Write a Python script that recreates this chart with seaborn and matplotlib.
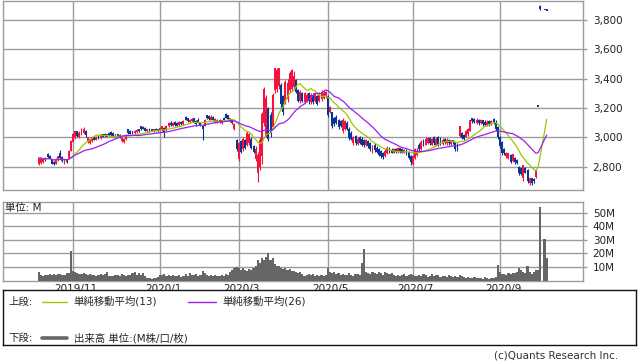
import numpy as np
import pandas as pd
import matplotlib
matplotlib.use("Agg")
import matplotlib.pyplot as plt
import seaborn as sns
from matplotlib.transforms import ScaledTranslation

# trading calendar (Tokyo), 2019/10/8 - 2020/10/5
holidays = ["2019-10-14", "2019-10-22", "2019-11-04", "2019-12-31",
            "2020-01-01", "2020-01-02", "2020-01-03", "2020-01-13",
            "2020-02-11", "2020-02-24", "2020-03-20", "2020-04-29",
            "2020-05-04", "2020-05-05", "2020-05-06", "2020-07-23",
            "2020-07-24", "2020-08-10", "2020-09-21", "2020-09-22"]

nan = np.nan
opens = [
    2815, 2825, 2830, 2860, 2885, 2875, 2850, 2835, 2820, 2845, 2890, 2865, 2830, 2850, 2860, 2910,
    2970, 3000, 3040, 3005, 3020, 3030, 3045, 2970, 2960, 2975, 3000, 2985, 3010, 2995, 3020, 3025,
    3005, 3030, 3035, 3030, 3005, 3020, 3015, 2975, 2965, 2990, 3055, 3045, 3040, 3030, 3035, 3055,
    3075, 3070, 3065, 3040, 3060, 3055, 3040, 3060, 3055, 3045, 3050, 3065, 3050, 3075, 3100, 3080,
    3105, 3100, 3085, 3105, 3090, 3140, 3130, 3105, 3110, 3130, 3110, 3120, 3100, 3080, 3080, 3150,
    3145, 3120, 3140, 3105, 3100, 3120, 3095, 3130, 3160, 3150, 3110, 3120, 3060, 2985, 2850, 2975,
    2920, 2980, 2950, 2960, 2990, 2940, 2850, 2760, 2800, 2870, 3100, 3010, 3200, 3150, 3070, 3320,
    3330, 3350, 3360, 3280, 3240, 3260, 3320, 3330, 3340, 3390, 3320, 3250, 3300, 3240, 3250, 3300,
    3240, 3290, 3250, 3280, 3250, 3260, 3270, 3280, 3280, 3175, 3170, 3130, 3140, 3120, 3110, 3040,
    3060, 3100, 3060, 3030, 2960, 3010, 2955, 3000, 2990, 2980, 2945, 2975, 2960, 2905, 2950, 2930,
    2920, 2910, 2895, 2870, 2890, 2925, 2915, 2895, 2920, 2900, 2925, 2920, 2895, 2910, 2900, 2870,
    2820, 2860, 2880, 2950, 2920, 2980, 2950, 2960, 2995, 2950, 3000, 2945, 3000, 2990, 2955, 2990,
    2960, 2985, 2955, 2980, 2965, 2950, 3010, 3030, 3015, 3005, 3020, 3045, 3130, 3125, 3100, 3120,
    3095, 3115, 3105, 3085, 3110, 3090, 3125, 3100, 3070, 3000, 2970, 2920, 2870, 2860, 2880, 2840,
    2860, 2845, 2800, 2790, 2720, 2790, 2780, 2690, 2720, 2715, 2730, 3214, 3895, nan, 3870, 3868]
highs = [
    2865, 2860, 2860, 2868, 2890, 2880, 2855, 2840, 2860, 2875, 2916, 2870, 2855, 2855, 2915, 2980,
    3030, 3045, 3045, 3040, 3065, 3070, 3050, 3005, 2995, 3005, 3010, 3010, 3015, 3020, 3025, 3030,
    3025, 3035, 3040, 3035, 3025, 3025, 3020, 3000, 2995, 3020, 3060, 3050, 3045, 3050, 3055, 3060,
    3080, 3075, 3070, 3060, 3065, 3060, 3060, 3065, 3060, 3070, 3080, 3070, 3085, 3105, 3110, 3105,
    3110, 3105, 3110, 3110, 3115, 3145, 3135, 3125, 3130, 3135, 3115, 3130, 3105, 3085, 3125, 3155,
    3150, 3150, 3145, 3130, 3125, 3125, 3120, 3140, 3168, 3155, 3135, 3125, 3100, 2990, 2970, 2985,
    3000, 2990, 3040, 3030, 3000, 2950, 2940, 2900, 3000, 3170, 3345, 3290, 3210, 3170, 3300, 3475,
    3475, 3475, 3370, 3290, 3390, 3395, 3450, 3468, 3450, 3395, 3330, 3320, 3310, 3310, 3300, 3310,
    3300, 3300, 3310, 3290, 3310, 3325, 3325, 3315, 3290, 3215, 3175, 3140, 3150, 3125, 3120, 3134,
    3120, 3110, 3070, 3040, 3010, 3018, 3000, 3010, 3005, 2990, 2990, 2985, 2970, 2950, 2960, 2940,
    2930, 2915, 2900, 2920, 2940, 2935, 2925, 2930, 2930, 2935, 2930, 2925, 2920, 2920, 2905, 2880,
    2880, 2930, 2925, 2960, 2980, 2990, 3000, 3005, 3000, 2998, 3007, 3000, 3007, 3000, 2995, 2996,
    2996, 2990, 2984, 2984, 2970, 2960, 3080, 3035, 3020, 3050, 3064, 3121, 3135, 3132, 3132, 3125,
    3125, 3120, 3115, 3115, 3120, 3120, 3132, 3121, 3075, 3007, 2973, 2930, 2900, 2895, 2889, 2889,
    2865, 2850, 2805, 2800, 2814, 2800, 2785, 2725, 2725, 2725, 2780, 3214, 3900, nan, 3870, 3868]
lows = [
    2810, 2815, 2825, 2840, 2860, 2850, 2815, 2810, 2815, 2840, 2855, 2830, 2820, 2825, 2855, 2905,
    2965, 2990, 3000, 2995, 3015, 3025, 3005, 2960, 2955, 2970, 2980, 2980, 2990, 2990, 3000, 3005,
    3000, 3010, 3010, 3005, 3000, 3000, 2995, 2970, 2960, 2985, 3025, 3020, 3025, 3025, 3030, 3035,
    3050, 3055, 3040, 3035, 3035, 3040, 3035, 3040, 3035, 3040, 3045, 3005, 3045, 3070, 3080, 3075,
    3080, 3075, 3080, 3085, 3085, 3115, 3105, 3100, 3105, 3095, 3080, 3095, 3075, 2985, 3075, 3125,
    3120, 3115, 3115, 3100, 3095, 3100, 3090, 3110, 3130, 3120, 3105, 3090, 3050, 2905, 2840, 2890,
    2910, 2920, 2940, 2950, 2920, 2890, 2840, 2695, 2780, 2820, 3080, 3000, 2975, 3000, 3060, 3300,
    3310, 3330, 3200, 3155, 3230, 3240, 3310, 3320, 3330, 3300, 3240, 3236, 3240, 3230, 3240, 3230,
    3225, 3230, 3240, 3220, 3240, 3250, 3260, 3270, 3141, 3165, 3066, 3080, 3090, 3060, 3070, 3032,
    3050, 3050, 2984, 2980, 2950, 2950, 2950, 2955, 2940, 2937, 2940, 2930, 2910, 2895, 2900, 2895,
    2870, 2862, 2855, 2865, 2885, 2895, 2890, 2890, 2895, 2895, 2895, 2890, 2890, 2880, 2850, 2814,
    2814, 2850, 2870, 2910, 2915, 2940, 2945, 2955, 2950, 2945, 2950, 2939, 2939, 2945, 2950, 2955,
    2950, 2950, 2950, 2955, 2905, 2905, 3005, 2989, 2985, 3000, 3010, 3040, 3100, 3098, 3090, 3085,
    3090, 3075, 3075, 3080, 3080, 3085, 3090, 3041, 2990, 2928, 2882, 2882, 2860, 2855, 2825, 2830,
    2821, 2820, 2746, 2745, 2700, 2755, 2689, 2678, 2678, 2690, 2723, 3214, 3870, nan, 3870, 3868]
closes = [
    2860, 2855, 2850, 2845, 2865, 2855, 2820, 2815, 2855, 2870, 2860, 2840, 2850, 2830, 2910, 2975,
    3020, 3040, 3010, 3030, 3055, 3060, 3015, 3000, 2990, 3000, 2985, 3005, 2995, 3015, 3005, 3010,
    3020, 3015, 3015, 3010, 3020, 3005, 3000, 2995, 2990, 3015, 3030, 3025, 3030, 3045, 3050, 3040,
    3055, 3060, 3045, 3055, 3040, 3045, 3055, 3045, 3040, 3065, 3075, 3035, 3080, 3100, 3085, 3100,
    3085, 3080, 3105, 3090, 3110, 3120, 3110, 3120, 3125, 3100, 3090, 3100, 3085, 3060, 3120, 3130,
    3125, 3140, 3120, 3125, 3120, 3105, 3115, 3115, 3135, 3125, 3130, 3095, 3090, 2920, 2960, 2900,
    2990, 2930, 3030, 3020, 2930, 2900, 2920, 2880, 2980, 3160, 3330, 3270, 2990, 3030, 3290, 3470,
    3460, 3470, 3230, 3170, 3380, 3370, 3440, 3460, 3420, 3310, 3250, 3310, 3250, 3300, 3290, 3250,
    3290, 3240, 3300, 3230, 3300, 3310, 3300, 3310, 3150, 3205, 3080, 3090, 3100, 3070, 3080, 3120,
    3110, 3060, 2995, 2990, 3000, 2960, 2990, 2960, 2950, 2945, 2980, 2940, 2920, 2940, 2915, 2900,
    2880, 2870, 2865, 2910, 2930, 2900, 2895, 2920, 2900, 2925, 2905, 2895, 2915, 2885, 2860, 2830,
    2870, 2920, 2910, 2920, 2970, 2950, 2990, 2995, 2960, 2990, 2960, 2990, 2950, 2960, 2985, 2965,
    2985, 2960, 2980, 2965, 2920, 2910, 3075, 2995, 2990, 3040, 3060, 3115, 3110, 3105, 3120, 3095,
    3115, 3090, 3085, 3105, 3090, 3110, 3095, 3060, 3000, 2940, 2890, 2890, 2895, 2890, 2830, 2885,
    2830, 2825, 2760, 2750, 2810, 2760, 2700, 2720, 2690, 2700, 2775, 3214, 3875, nan, 3870, 3868]
# volume, million shares
volumes = [
    6.5, 4.2, 3.6, 4.0, 4.4, 4.8, 3.9, 4.5, 4.1, 4.6, 5.0, 4.3, 3.8, 5.2, 5.5, 21.5,
    7.0, 6.5, 5.8, 5.0, 4.5, 5.3, 4.8, 4.2, 4.6, 3.9, 4.4, 3.6, 4.0, 4.7, 3.8, 4.5,
    6.5, 3.4, 3.0, 3.3, 3.8, 4.2, 3.6, 4.9, 4.1, 3.5, 4.4, 3.9, 5.2, 6.2, 4.3, 5.8,
    4.0, 5.5, 3.6, 1.8, 1.5, 1.2, 2.0, 1.6, 2.5, 4.2, 3.8, 4.6, 3.5, 4.0, 3.2, 4.3,
    3.7, 3.1, 3.9, 2.8, 3.5, 4.8, 3.6, 5.9, 4.4, 3.8, 4.9, 3.3, 4.1, 7.0, 5.5, 4.2,
    3.6, 4.0, 3.4, 3.9, 3.1, 3.7, 4.3, 3.5, 4.6, 4.0, 6.5, 8.0, 9.5, 10.0, 9.0, 8.0,
    9.5, 7.6, 6.9, 8.2, 7.5, 9.0, 10.5, 15.0, 13.0, 16.5, 15.5, 17.5, 20.5, 15.0, 16.5, 12.0,
    10.5, 11.0, 9.5, 8.5, 9.0, 7.8, 8.2, 6.8, 7.2, 6.5, 5.5, 6.0, 4.5, 3.2, 4.4, 5.1,
    3.8, 4.6, 3.5, 4.2, 3.0, 4.0, 3.6, 4.4, 9.0, 6.0, 5.2, 6.5, 4.8, 5.5, 4.2, 4.6,
    3.9, 4.3, 5.6, 4.1, 3.7, 4.5, 5.0, 4.0, 13.0, 23.5, 6.0, 5.4, 5.0, 6.2, 5.5, 4.8,
    6.3, 5.2, 4.4, 6.0, 5.3, 4.6, 5.7, 4.2, 3.5, 4.0, 3.2, 3.8, 4.5, 3.6, 4.2, 5.0,
    4.4, 3.0, 3.7, 4.1, 3.3, 4.6, 3.9, 2.8, 3.4, 4.8, 3.1, 3.8, 4.3, 2.9, 3.6, 3.2,
    2.6, 3.9, 3.0, 2.4, 3.5, 2.7, 4.2, 3.1, 2.5, 2.0, 2.8, 2.2, 1.8, 2.4, 1.5, 2.1,
    1.9, 1.4, 2.3, 1.7, 1.2, 2.0, 1.6, 2.5, 11.5, 6.2, 5.0, 4.6, 4.2, 5.5, 4.8, 5.8,
    5.2, 6.0, 9.5, 8.0, 6.5, 5.5, 10.8, 6.0, 5.0, 6.5, 7.8, 7.5, 54.7, 0.0, 30.7, 16.9]

month_labels = ["2019/11", "2020/1", "2020/3", "2020/5", "2020/7", "2020/9"]
price_ticks = [2800, 3000, 3200, 3400, 3600, 3800]
volume_ticks = [10, 20, 30, 40, 50]

RED = "#f2133f"
BLUE = "#0b3592"
GREEN = "#9ac800"
PURPLE = "#9d1ff0"
GRID = "#9c9c9c"
VOLC = "#666666"

sns.set_theme(style="white")
plt.rcParams["font.family"] = ["DejaVu Sans", "Noto Sans CJK JP"]

dates = pd.bdate_range("2019-10-08", "2020-10-05", freq="C", holidays=holidays)
df = pd.DataFrame({"open": opens, "high": highs, "low": lows, "close": closes,
                   "volume": volumes}, index=dates)
df["pos"] = np.arange(len(df))
filled = df["close"].ffill()
df["ma13"] = filled.rolling(13, min_periods=1).mean()
df["ma26"] = filled.rolling(26, min_periods=1).mean()

# first trading day of each labelled month
firsts = df.groupby(df.index.to_period("M"))["pos"].min()
firsts.index = [f"{p.year}/{p.month}" for p in firsts.index]
tick_pos = [firsts[m] for m in month_labels]

W, H = 638, 362
fig = plt.figure(figsize=(W / 100, H / 100), dpi=100)
ax = fig.add_axes([3 / W, 1 - 190 / H, 580 / W, 189.5 / H])
axv = fig.add_axes([3 / W, 1 - 280.5 / H, 580 / W, 78.5 / H])
xlim = (-16.95, 256.1)

# candles
c = df.dropna(subset=["close"])
up = (c["close"] > c["open"]).to_numpy()
cols = np.where(up, RED, BLUE)
ax.vlines(c["pos"], c["low"], c["high"], colors=cols, lw=0.8, zorder=3)
lo = np.minimum(c["open"], c["close"]).to_numpy()
h = (c["close"] - c["open"]).abs().to_numpy()
hmin = 9.0
bot = np.where(h < hmin, lo - (hmin - h) / 2, lo)
ax.bar(c["pos"], np.maximum(h, hmin), bottom=bot, width=0.9, color=cols,
       linewidth=0, zorder=3)

sns.lineplot(data=df, x="pos", y="ma13", ax=ax, color=GREEN, lw=0.9,
             estimator=None, zorder=4)
sns.lineplot(data=df, x="pos", y="ma26", ax=ax, color=PURPLE, lw=0.9,
             estimator=None, zorder=4)

ax.set_xlim(*xlim)
ax.set_ylim(2641, 3933)
ax.set_yticks(price_ticks)
ax.set_yticklabels([f"{v:,}" for v in price_ticks])
ax.set_xticks(tick_pos)
ax.set_xticklabels([])
ax.set_xlabel("")
ax.set_ylabel("")

# volume
axv.bar(df["pos"], df["volume"], width=1.0, color=VOLC, linewidth=0, zorder=3)
axv.set_xlim(*xlim)
axv.set_ylim(0, 58.1)
axv.set_yticks(volume_ticks)
axv.set_yticklabels([f"{v}M" for v in volume_ticks])
axv.set_xticks(tick_pos)
axv.set_xticklabels(month_labels)
axv.text(0.004, 0.93, "単位: M", transform=axv.transAxes, fontsize=7.5,
         ha="left", va="center", color="#222222")

for a in (ax, axv):
    a.yaxis.tick_right()
    a.grid(True, color=GRID, lw=1.0)
    a.set_axisbelow(True)
    for s in a.spines.values():
        s.set_color(GRID)
        s.set_linewidth(1.0)
    a.tick_params(axis="y", which="both", right=True, left=False, length=3,
                  width=1.0, color=GRID, pad=4, labelsize=7.5, labelcolor="#222222")
    a.tick_params(axis="x", length=0, pad=2.5, labelsize=7.5, labelcolor="#222222")

for lab in axv.get_xticklabels():
    lab.set_transform(lab.get_transform() + ScaledTranslation(0.03, 0, fig.dpi_scale_trans))

# legend box
lg = fig.add_axes([3 / W, 1 - 345 / H, 633 / W, 55 / H])
lg.set_xlim(0, 633)
lg.set_ylim(55, 0)
lg.set_xticks([])
lg.set_yticks([])
for s in lg.spines.values():
    s.set_color("#111111")
    s.set_linewidth(1.0)
fs = 7.5
lg.text(5, 11.5, "上段:", fontsize=fs, va="center", ha="left")
lg.plot([39, 64], [11.5, 11.5], color=GREEN, lw=1.0)
lg.text(70, 11.5, "単純移動平均(13)", fontsize=fs, va="center", ha="left")
lg.plot([185, 213], [11.5, 11.5], color=PURPLE, lw=1.0)
lg.text(219, 11.5, "単純移動平均(26)", fontsize=fs, va="center", ha="left")
lg.text(5, 48, "下段:", fontsize=fs, va="center", ha="left")
lg.plot([39, 64], [48, 48], color=VOLC, lw=2.6)
lg.text(71, 48, "出来高 単位:(M株/口/枚)", fontsize=fs, va="center", ha="left")

fig.text(618 / W, 1 - 356 / H, "(c)Quants Research Inc.", fontsize=7.5,
         ha="right", va="center", color="#333333")

fig.savefig("out.png", dpi=100)
